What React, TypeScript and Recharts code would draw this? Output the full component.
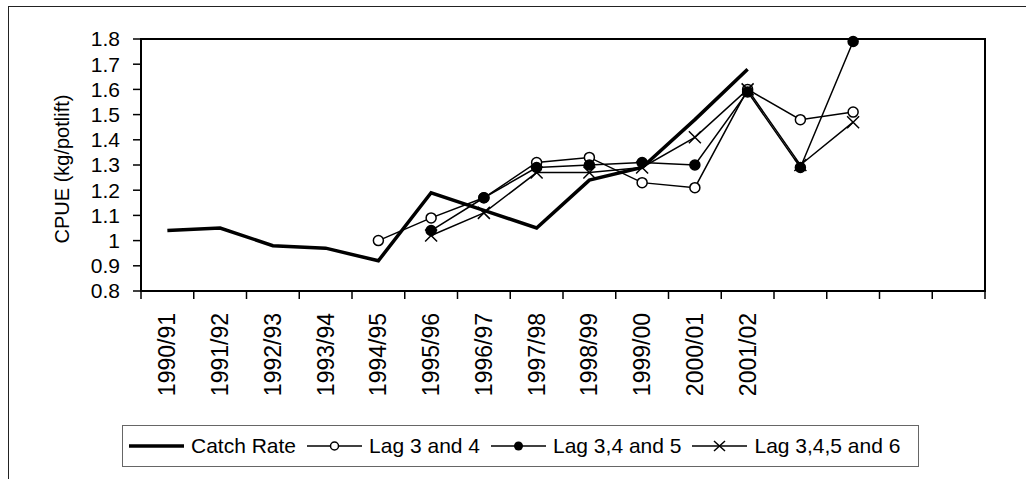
import React from 'react';
import { LineChart, Line, XAxis, YAxis, ReferenceArea } from 'recharts';

// seasons on the category axis; the axis keeps 4 unlabelled slots after them
const seasons = [
  '1990/91', '1991/92', '1992/93', '1993/94', '1994/95', '1995/96',
  '1996/97', '1997/98', '1998/99', '1999/00', '2000/01', '2001/02',
];
const blankSlots = 4;

const catchRate = [1.04, 1.05, 0.98, 0.97, 0.92, 1.19, 1.12, 1.05, 1.24, 1.29, 1.48, 1.68];
const lag34 = [null, null, null, null, 1.0, 1.09, 1.17, 1.31, 1.33, 1.23, 1.21, 1.6, 1.48, 1.51];
const lag345 = [null, null, null, null, null, 1.04, 1.17, 1.29, 1.3, 1.31, 1.3, 1.59, 1.29, 1.79];
const lag3456 = [null, null, null, null, null, 1.02, 1.11, 1.27, 1.27, 1.29, 1.41, 1.6, 1.3, 1.47];

const yTicks = [0.8, 0.9, 1.0, 1.1, 1.2, 1.3, 1.4, 1.5, 1.6, 1.7, 1.8];

const slotCount = seasons.length + blankSlots;
const rows = Array.from({ length: slotCount }, (_, i) => ({
  slot: i + 0.5,
  catchRate: catchRate[i] ?? null,
  lag34: lag34[i] ?? null,
  lag345: lag345[i] ?? null,
  lag3456: lag3456[i] ?? null,
}));
const slotTicks = Array.from({ length: slotCount + 1 }, (_, i) => i);

const W = 1026;
const H = 479;
const Y_AXIS_W = 141;
const RIGHT = 41;
const HALF_BAND = (W - Y_AXIS_W - RIGHT) / slotCount / 2;
const FONT = '"Liberation Sans", Arial, sans-serif';

function SeasonTick({ x, y, payload }: any) {
  const label = seasons[payload.value];
  if (!label) return <g />;
  return (
    <text
      transform={`translate(${x + HALF_BAND},${y + 12}) rotate(-90)`}
      textAnchor="end"
      dominantBaseline="central"
      fontSize={23}
      fill="#000"
    >
      {label}
    </text>
  );
}

function YTitle({ viewBox }: any) {
  const cy = viewBox.y + viewBox.height / 2 + 4;
  return (
    <text
      transform={`translate(62,${cy}) rotate(-90)`}
      textAnchor="middle"
      dominantBaseline="central"
      fontSize={20}
      fill="#000"
    >
      CPUE (kg/potlift)
    </text>
  );
}

const CrossDot = (props: any) => {
  const { cx, cy, key } = props;
  if (cx == null || cy == null) return <g key={key} />;
  const s = 6;
  return (
    <path
      key={key}
      d={`M${cx - s},${cy - s}L${cx + s},${cy + s}M${cx - s},${cy + s}L${cx + s},${cy - s}`}
      stroke="#000"
      strokeWidth={1.5}
      fill="none"
    />
  );
};

const openDot = { r: 5, fill: '#fff', stroke: '#000', strokeWidth: 1.5 };
const solidDot = { r: 5, fill: '#000', stroke: '#000', strokeWidth: 1.5 };

function LegendIcon({ kind }: { kind: string }) {
  return (
    <svg width={55} height={20} style={{ display: 'block' }}>
      <line x1={0} y1={10} x2={55} y2={10} stroke="#000" strokeWidth={kind === 'thick' ? 3.5 : 1.5} />
      {kind === 'open' && <circle cx={27.5} cy={10} r={4} fill="#fff" stroke="#000" strokeWidth={1.5} />}
      {kind === 'solid' && <circle cx={27.5} cy={10} r={4.5} fill="#000" />}
      {kind === 'cross' && (
        <path d="M22,5L33,15M22,15L33,5" stroke="#000" strokeWidth={1.5} />
      )}
    </svg>
  );
}

const legendItems = [
  { label: 'Catch Rate', kind: 'thick' },
  { label: 'Lag 3 and 4', kind: 'open' },
  { label: 'Lag 3,4 and 5', kind: 'solid' },
  { label: 'Lag 3,4,5 and 6', kind: 'cross' },
];

export default function App() {
  return (
    <div
      style={{
        position: 'absolute',
        left: 0,
        top: 0,
        width: W,
        height: H,
        overflow: 'hidden',
        background: '#fff',
        fontFamily: FONT,
      }}
    >
      <div
        style={{
          position: 'absolute',
          left: 8,
          top: 6,
          width: W - 8,
          height: H - 6,
          borderLeft: '1px solid #222',
          borderTop: '1px solid #222',
        }}
      />
      <div style={{ position: 'absolute', left: 0, top: 0 }}>
        <LineChart
          width={W}
          height={H}
          data={rows}
          margin={{ top: 39, right: RIGHT, bottom: 0, left: 0 }}
          style={{ fontFamily: FONT }}
        >
          <XAxis
            dataKey="slot"
            type="number"
            domain={[0, slotCount]}
            ticks={slotTicks}
            interval={0}
            height={188}
            tickSize={8}
            tickMargin={2}
            tick={<SeasonTick />}
            axisLine={{ stroke: '#000', strokeWidth: 2 }}
            tickLine={{ stroke: '#000', strokeWidth: 1.5 }}
          />
          <YAxis
            type="number"
            domain={[0.8, 1.8]}
            ticks={yTicks}
            interval={0}
            width={Y_AXIS_W}
            tickSize={8}
            tickMargin={13}
            tick={{ fontSize: 21, fill: '#000' }}
            tickFormatter={(v: number) => String(Number(v.toFixed(1)))}
            axisLine={{ stroke: '#000', strokeWidth: 2 }}
            tickLine={{ stroke: '#000', strokeWidth: 1.5 }}
            label={<YTitle />}
          />
          <ReferenceArea
            x1={0}
            x2={slotCount}
            y1={0.8}
            y2={1.8}
            fill="none"
            fillOpacity={0}
            stroke="#000"
            strokeWidth={2}
          />
          <Line
            dataKey="catchRate"
            type="linear"
            stroke="#000"
            strokeWidth={3.5}
            dot={false}
            isAnimationActive={false}
          />
          <Line
            dataKey="lag34"
            type="linear"
            stroke="#000"
            strokeWidth={1.5}
            dot={openDot}
            isAnimationActive={false}
          />
          <Line
            dataKey="lag345"
            type="linear"
            stroke="#000"
            strokeWidth={1.5}
            dot={solidDot}
            isAnimationActive={false}
          />
          <Line
            dataKey="lag3456"
            type="linear"
            stroke="#000"
            strokeWidth={1.5}
            dot={CrossDot}
            isAnimationActive={false}
          />
        </LineChart>
      </div>
      <div
        style={{
          position: 'absolute',
          left: 122,
          top: 425,
          width: 789,
          height: 40,
          border: '1px solid #666',
          display: 'flex',
          alignItems: 'center',
          paddingLeft: 6,
          boxSizing: 'content-box',
          fontSize: 21,
          color: '#000',
        }}
      >
        {legendItems.map((it, i) => (
          <div key={it.label} style={{ display: 'flex', alignItems: 'center', marginLeft: i === 0 ? 0 : 11 }}>
            <LegendIcon kind={it.kind} />
            <span style={{ marginLeft: 7, whiteSpace: 'nowrap' }}>{it.label}</span>
          </div>
        ))}
      </div>
    </div>
  );
}
